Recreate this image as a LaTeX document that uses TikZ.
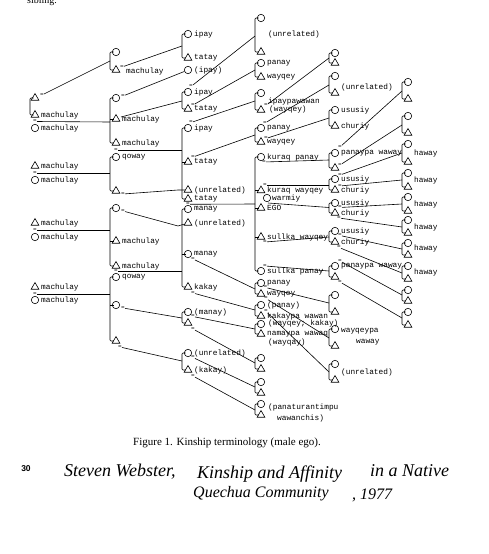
\documentclass[tikz,border=0pt]{standalone}
\usepackage{fontspec}
\setmainfont{Liberation Serif}
\newfontfamily\kmono{Liberation Mono}
\newfontfamily\ksans{Liberation Sans}
\usetikzlibrary{shapes.geometric}
\tikzset{
 ln/.style={line width=0.6pt, draw=black},
 fem/.style={circle,draw=black,line width=0.6pt,inner sep=0,minimum size=7.4pt},
 mal/.style={regular polygon,regular polygon sides=3,draw=black,line width=0.6pt,inner sep=0,minimum size=9pt},
 lab/.style={anchor=west,inner sep=0,font=\kmono\fontsize{7.8}{8}\selectfont},
 eq/.style={inner sep=0,font=\kmono\fontsize{6}{6}\selectfont},
 hand/.style={anchor=base west,inner sep=0,font=\itshape\fontsize{18}{20}\selectfont},
 handb/.style={anchor=base west,inner sep=0,font=\itshape\fontsize{16}{18}\selectfont}
}
\newcommand\kF[4]{\node[fem] (#1) at (#2,#3) {}; \node[lab] (#1l) at ({#2+6},#3) {#4};}
\newcommand\kM[4]{\node[mal] (#1) at (#2,#3) {}; \node[lab] (#1l) at ({#2+6},#3) {#4};}
\newcommand\kbr[3]{\draw[ln,rounded corners=1pt] ({#1+3.5},#2) -- (#1,#2) -- (#1,#3) -- ({#1+3.5},#3);}
\newcommand\kst[2]{\draw[ln] (#1,#2) -- ({#1+3.5},#2);}
\begin{document}
\begin{tikzpicture}[x=1pt,y=-1pt]
\fill[white] (0,0) rectangle (488,554);
\useasboundingbox (0,0) rectangle (488,554);
\node[anchor=base west,inner sep=0,font=\fontsize{10}{12}\selectfont] (frag) at (27,4) {sibling.};
% ---------- column 0
\kM{a1}{35}{98}{} \node[eq] (a1e) at (42,95) {=};
\kM{a2}{35}{115}{machulay} \node[eq] (a2e) at (35,121.5) {=}; \kF{a2w}{35}{128}{machulay}
\kbr{30}{98}{115}
\kM{a3}{35}{166}{machulay} \node[eq] (a3e) at (35,173) {=}; \kF{a3w}{35}{180}{machulay}
\kM{a4}{35}{223}{machulay} \node[eq] (a4e) at (35,230) {=}; \kF{a4w}{35}{237}{machulay}
\kM{a5}{35}{287}{machulay} \node[eq] (a5e) at (35,294) {=}; \kF{a5w}{35}{300}{machulay}
\coordinate (p1) at (110,61); \coordinate (p2) at (110,122); \coordinate (p3) at (110,173);
\coordinate (p4) at (110,230); \coordinate (p5) at (110,294);
\draw[ln] (a1e) -- (p1); \draw[ln] (a2e) -- (p2); \draw[ln] (a3e) -- (p3);
\draw[ln] (a4e) -- (p4); \draw[ln] (a5e) -- (p5);
% ---------- column 1
\kF{b1a}{116}{52}{} \kM{b1b}{116}{70}{} \node[eq] (b1e) at (122,67) {=}; \node[lab] (b1bt) at (126,71) {machulay};
\kbr{110}{52}{70}
\kF{b2a}{116}{98}{} \node[eq] (b2e) at (123,96) {=};
\kM{b2b}{116}{119}{machulay} \coordinate (b2bs) at (121,117);
\kM{b2c}{116}{143}{machulay}
\kbr{110}{98}{143} \kst{110}{119}
\node[eq] (b23e) at (116,150) {=};
\kF{b3a}{116}{157}{qoway}
\kM{b3b}{116}{191}{} \node[eq] (b3e) at (123,194) {=};
\kbr{110}{157}{191}
\kF{b4a}{116}{208}{} \node[eq] (b4e) at (123,211) {=};
\kM{b4b}{116}{241}{machulay}
\kM{b4c}{116}{266}{machulay}
\kbr{110}{208}{266} \kst{110}{241}
\node[eq] (b45e) at (116,271.5) {=};
\kF{b5a}{116}{277}{qoway}
\kF{b5b}{116}{305}{} \node[eq] (b5be) at (123,308) {=};
\kM{b5c}{116}{341}{} \node[eq] (b5ce) at (120,347) {=};
\kbr{110}{277}{341} \kst{110}{305}
% ---------- column 2
\kF{c1a}{188}{34}{ipay} \kM{c1b}{188}{58}{tatay} \kbr{182}{34}{58}
\kF{c2}{188}{70}{(ipay)}
\kF{c3a}{188}{92}{ipay} \node[eq] (c3ae) at (191,86.5) {=};
\kM{c3b}{188}{109}{tatay} \node[eq] (c3be) at (193,105) {=};
\kbr{182}{92}{109}
\kF{c4a}{188}{128}{ipay} \node[eq] (c4ae) at (191,122.5) {=};
\kM{c4b}{188}{162}{tatay} \node[eq] (c4be) at (193,157) {=};
\kM{cu1}{188}{190}{(unrelated)}
\kM{c4c}{188}{199}{tatay}
\kbr{182}{128}{199} \kst{182}{162}
\node[eq] (c45e) at (188,204.3) {=};
\kF{c5a}{188}{209}{manay}
\kM{cu2}{188}{223}{(unrelated)}
\kF{c5b}{188}{254}{manay} \node[eq] (c5be) at (193,259) {=};
\kM{c5c}{188}{287}{kakay} \node[eq] (c5ce) at (193,293) {=};
\kbr{182}{209}{287} \kst{182}{254}
\kF{c6a}{188}{312}{(manay)} \node[eq] (c6ae) at (193,316.5) {=};
\kM{c6b}{188}{323}{} \node[eq] (c6be) at (193,329) {=};
\kbr{182}{312}{323}
\kF{c7a}{188}{353}{(unrelated)} \node[eq] (c7ae) at (193,357.5) {=};
\kM{c7b}{188}{370}{(kakay)} \node[eq] (c7be) at (193,376) {=};
\kbr{182}{353}{370}
% col1 -> col2
\coordinate (q1) at (182,46); \draw[ln] (b1e) -- (q1);
\draw[ln] (b2e) -- (c2);
\coordinate (q3) at (182,101); \draw[ln] (b2bs) -- (q3);
\coordinate (q4) at (182,150); \draw[ln] (b23e) -- (q4);
\coordinate (k1) at (178,190); \draw[ln] (b3e) -- (k1) -- (cu1);
\coordinate (k2) at (178,226); \draw[ln] (b4e) -- (k2) -- (cu2);
\coordinate (q5) at (182,271.5); \draw[ln] (b45e) -- (q5);
\coordinate (q6) at (182,318); \draw[ln] (b5be) -- (q6);
\coordinate (q7) at (182,361); \draw[ln] (b5ce) -- (q7);
% ---------- column 3
\kF{d1a}{261}{18}{} \kM{d1b}{261}{52}{} \node[lab] (d1t) at (268,34) {(unrelated)}; \kbr{255}{18}{52}
\kF{d2a}{261}{63}{panay} \kM{d2b}{261}{77}{wayqey} \kbr{255}{63}{77}
\kF{d3a}{261}{93}{} \kM{d3b}{261}{110}{} \node[eq] (d3be) at (266,105.5) {=};
\node[lab] (d3t1) at (268,101) {ipaypawawan}; \node[lab] (d3t2) at (269,109.5) {(wayqey)};
\kbr{255}{93}{110}
\kF{d4a}{261}{128}{panay} \node[eq] (d4ae) at (265,123) {=};
\kM{d4b}{261}{142}{wayqey} \node[eq] (d4be) at (266,138.5) {=};
\kbr{255}{128}{142}
\kF{d5a}{261}{157}{kuraq panay} \node[eq] (d5ae) at (264,162) {=};
\kM{d5b}{261}{190.5}{kuraq wayqey} \node[eq] (d5be) at (265,185.5) {=};
\kF{dw}{267}{198}{} \node[lab] (dwt) at (272,198) {warmiy};
\kM{ego}{261}{208}{EGO} \coordinate (egom) at (268,203);
\kM{d5c}{261}{237}{sullka wayqey} \node[eq] (d5ce) at (265,242) {=};
\kF{d5d}{261}{271}{sullka panay} \node[eq] (d5de) at (265,266) {=};
\kbr{255}{157}{271} \kst{255}{190.5} \kst{255}{208} \kst{255}{237}
\kF{d6a}{261}{283}{panay} \node[eq] (d6ae) at (265.5,287.5) {=};
\kM{d6b}{261}{294}{wayqey} \node[eq] (d6be) at (266,298.5) {=};
\kbr{255}{283}{294}
\kF{d7a}{261}{305}{(panay)}
\kM{d7b}{261}{316}{kakaypa wawan} \node[eq] (d7be) at (266,311.5) {=}; \node[lab] (d7t) at (268,323) {(wayqey; kakay)};
\kbr{255}{305}{316}
\kF{d8a}{261}{324}{} \kM{d8b}{261}{334}{namaypa wawaq} \node[lab] (d8t) at (268,342) {(wayqay)};
\kbr{255}{324}{334}
\kF{d9a}{261}{358}{} \kM{d9b}{261}{369}{} \kbr{255}{358}{369}
\kF{d10a}{261}{382}{} \kM{d10b}{261}{393}{} \kbr{255}{382}{393}
\kF{d11a}{261}{404}{} \kM{d11b}{261}{415}{} \kbr{255}{404}{415}
\node[lab] (d11t1) at (268,407) {(panaturantimpu}; \node[lab] (d11t2) at (277,418) {wawanchis)};
% col2 -> col3
\coordinate (r1) at (255,36); \draw[ln] (c3ae) -- (r1);
\coordinate (r2) at (255,70); \draw[ln] (c3be) -- (r2);
\coordinate (r3) at (255,101); \draw[ln] (c4ae) -- (r3);
\coordinate (r4) at (255,135); \draw[ln] (c4be) -- (r4);
\coordinate (r5) at (255,204); \draw[ln] (c45e) -- (r5);
\coordinate (r6) at (255,289); \draw[ln] (c5be) -- (r6);
\coordinate (r7) at (255,310); \draw[ln] (c5ce) -- (r7);
\coordinate (r8) at (255,329); \draw[ln] (c6ae) -- (r8);
\coordinate (r9) at (255,363); \draw[ln] (c6be) -- (r9);
\coordinate (r10) at (255,387); \draw[ln] (c7ae) -- (r10);
\coordinate (r11) at (255,410); \draw[ln] (c7be) -- (r11);
% ---------- column 4
\kF{e1a}{335}{53}{} \kM{e1b}{335}{63}{} \kbr{329}{53}{63}
\kF{e2a}{335}{76}{} \kM{e2b}{335}{93}{} \node[lab] (e2t) at (341,87) {(unrelated)}; \kbr{329}{76}{93}
\kF{e3a}{335}{110}{ususiy} \kM{e3b}{335}{126}{churiy} \kbr{329}{110}{126}
\kF{e4a}{335}{153}{panaypa waway} \node[eq] (e4ae) at (340,147) {=};
\kM{e4b}{335}{168}{} \node[eq] (e4be) at (340,165) {=}; \kbr{329}{153}{168}
\kF{e5a}{335}{179}{ususiy} \node[eq] (e5ae) at (340,175) {=};
\kM{e5b}{335}{190}{churiy} \node[eq] (e5be) at (340,186) {=}; \kbr{329}{179}{190}
\kF{e6a}{335}{203}{ususiy} \node[eq] (e6ae) at (340,207.5) {=};
\kM{e6b}{335}{213}{churiy} \node[eq] (e6be) at (339,218) {=}; \kbr{329}{203}{213}
\kF{e7a}{335}{231}{ususiy} \node[eq] (e7ae) at (340,235.5) {=};
\kM{e7b}{335}{242}{churiy} \node[eq] (e7be) at (339,247.5) {=}; \kbr{329}{231}{242}
\kF{e8a}{335}{266}{panaypa waway} \node[eq] (e8ae) at (340,261) {=};
\kM{e8b}{335}{277}{} \node[eq] (e8be) at (340,282) {=}; \kbr{329}{266}{277}
\kF{e9a}{335}{295}{} \kM{e9b}{335}{312}{} \kbr{329}{295}{312}
\kF{e10a}{335}{329}{} \kM{e10b}{335}{346}{} \kbr{329}{329}{346}
\node[lab] (e10t1) at (341,331) {wayqeypa}; \node[lab] (e10t2) at (356,342) {waway};
\kF{e11a}{335}{364}{} \kM{e11b}{335}{380}{} \kbr{329}{364}{380}
\node[lab] (e11t) at (341,372) {(unrelated)};
% col3 -> col4
\coordinate (s1) at (329,58); \draw[ln] (d3be) -- (s1);
\coordinate (s2) at (329,85); \draw[ln] (d4ae) -- (s2);
\coordinate (s3) at (329,118); \draw[ln] (d4be) -- (s3);
\coordinate (s4) at (329,160); \draw[ln] (d5ae) -- (s4);
\coordinate (s5) at (329,185.5); \draw[ln] (d5be) -- (s5);
\coordinate (s6) at (329,207.5); \draw[ln] (egom) -- (s6);
\coordinate (s7) at (329,237); \draw[ln] (d5ce) -- (s7);
\coordinate (s8) at (329,271); \draw[ln] (d5de) -- (s8);
\coordinate (s9) at (329,303); \draw[ln] (d6ae) -- (s9);
\coordinate (s10) at (329,338); \draw[ln] (d6be) -- (s10);
\coordinate (s11) at (329,372); \draw[ln] (d7be) -- (s11);
% ---------- column 5
\kF{f1a}{408}{82}{} \kM{f1b}{408}{99}{} \kbr{402}{82}{99}
\kF{f2a}{408}{116}{} \kM{f2b}{408}{133}{} \kbr{402}{116}{133}
\kF{f3a}{408}{144}{} \kM{f3b}{408}{162}{} \kbr{402}{144}{162} \node[lab] (f3t) at (414,153) {haway};
\kF{f4a}{408}{173}{} \kM{f4b}{408}{187}{} \kbr{402}{173}{187} \node[lab] (f4t) at (414,180) {haway};
\kF{f5a}{408}{197}{} \kM{f5b}{408}{211}{} \kbr{402}{197}{211} \node[lab] (f5t) at (414,204) {haway};
\kF{f6a}{408}{220}{} \kM{f6b}{408}{233}{} \kbr{402}{220}{233} \node[lab] (f6t) at (414,227) {haway};
\kF{f7a}{408}{243}{} \kM{f7b}{408}{255}{} \kbr{402}{243}{255} \node[lab] (f7t) at (414,248) {haway};
\kF{f8a}{408}{266}{} \kM{f8b}{408}{279}{} \kbr{402}{266}{279} \node[lab] (f8t) at (414,272) {haway};
\kF{f9a}{408}{290}{} \kM{f9b}{408}{301}{} \kbr{402}{290}{301}
\kF{f10a}{408}{312}{} \kM{f10b}{408}{325}{} \kbr{402}{312}{325}
% col4 -> col5
\coordinate (t1) at (402,91); \draw[ln] (e4ae) -- (t1);
\coordinate (t2) at (402,125); \draw[ln] (e4be) -- (t2);
\coordinate (t3) at (402,153); \draw[ln] (e5ae) -- (t3);
\coordinate (t4) at (402,180); \draw[ln] (e5be) -- (t4);
\coordinate (t5) at (402,204); \draw[ln] (e6ae) -- (t5);
\coordinate (t6) at (402,227); \draw[ln] (e6be) -- (t6);
\coordinate (t7) at (402,249); \draw[ln] (e7ae) -- (t7);
\coordinate (t8) at (402,273); \draw[ln] (e7be) -- (t8);
\coordinate (t9) at (402,295); \draw[ln] (e8ae) -- (t9);
\coordinate (t10) at (402,318); \draw[ln] (e8be) -- (t10);
% ---------- captions
\node[inner sep=0,font=\fontsize{11}{13}\selectfont] (cap) at (227,443) {Figure 1. Kinship terminology (male ego).};
\node[inner sep=0,font=\ksans\bfseries\fontsize{8.5}{10}\selectfont] (pg) at (26,469) {30};
\node[hand] (h1) at (64,476) {Steven Webster,};
\node[hand] (h2) at (197,478) {Kinship and Affinity};
\node[hand] (h3) at (370,476) {in a Native};
\node[handb] (h4) at (193,497) {Quechua Community};
\node[handb] (h5) at (352,499) {, 1977};
\end{tikzpicture}
\end{document}
